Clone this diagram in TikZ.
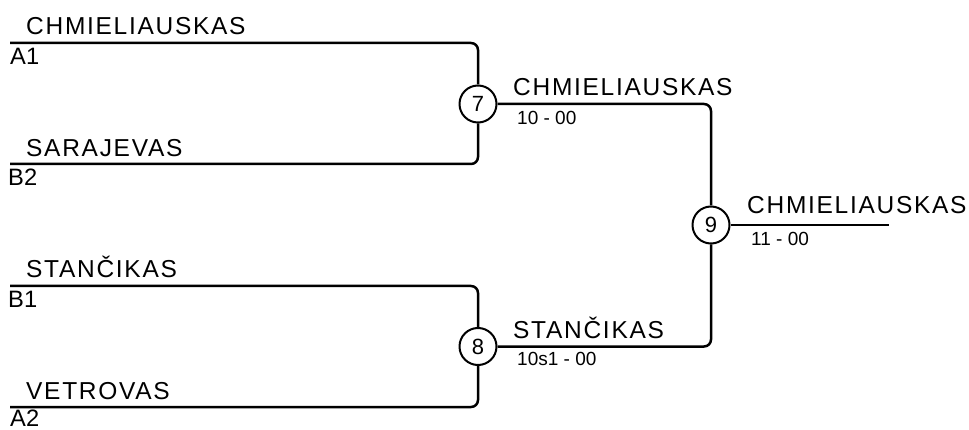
\documentclass[tikz,border=0pt]{standalone}
\usepackage{fontspec}
\setmainfont{Liberation Sans}
\newfontfamily\namefont[LetterSpace=7]{Liberation Sans}
\usetikzlibrary{positioning}

\begin{document}
\begin{tikzpicture}[x=1pt,y=-1pt,
  bline/.style={line width=2.5pt, rounded corners=7pt},
  game/.style={circle, draw, line width=2pt, minimum size=37pt, inner sep=0pt, font=\fontsize{22}{26}\selectfont},
  pname/.style={anchor=base west, inner sep=0pt, font=\namefont\fontsize{24.5}{28}\selectfont},
  pseed/.style={anchor=base west, inner sep=0pt, font=\fontsize{23.7}{28}\selectfont},
  pscore/.style={anchor=base west, inner sep=0pt, font=\fontsize{19}{22}\selectfont}]
  \useasboundingbox (0,0) rectangle (969,430);
  % round 1
  \coordinate (s1) at (10,43);
  \coordinate (s2) at (10,164);
  \coordinate (s3) at (10,286);
  \coordinate (s4) at (10,407);
  \node[game] (g7) at (478,104) {7};
  \node[game] (g8) at (478,346.5) {8};
  \node[game] (g9) at (711,225) {9};
  \coordinate (fin) at (889,225);
  \draw[bline] (s1) -| (g7);
  \draw[bline] (s2) -| (g7);
  \draw[bline] (s3) -| (g8);
  \draw[bline] (s4) -| (g8);
  % round 2 and final
  \draw[bline] (g7) -| (g9);
  \draw[bline] (g8) -| (g9);
  \draw[bline] (g9) -- (fin);
  % players
  \node[pname] (n1) at (26,35) {CHMIELIAUSKAS};
  \node[pseed] (d1) at (10,65) {A1};
  \node[pname] (n2) at (26,157) {SARAJEVAS};
  \node[pseed] (d2) at (8,186) {B2};
  \node[pname] (n3) at (26,278) {STANČIKAS};
  \node[pseed] (d3) at (8,308) {B1};
  \node[pname] (n4) at (26,399) {VETROVAS};
  \node[pseed] (d4) at (10,426.5) {A2};
  % winners
  \node[pname] (n7) at (513,96) {CHMIELIAUSKAS};
  \node[pscore] (r7) at (517,125) {10 - 00};
  \node[pname] (n8) at (513,338) {STANČIKAS};
  \node[pscore] (r8) at (517,365) {10s1 - 00};
  \node[pname] (n9) at (747,214) {CHMIELIAUSKAS};
  \node[pscore] (r9) at (751,246) {11 - 00};
\end{tikzpicture}
\end{document}
